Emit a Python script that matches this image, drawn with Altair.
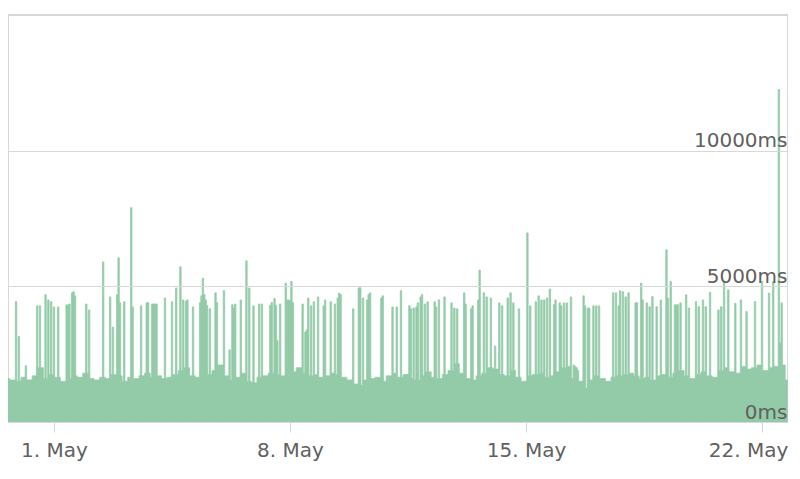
import altair as alt
import pandas as pd

# Hourly response time (ms), starting 2016-04-29 13:00 UTC
START = "2016-04-29 13:00"
N_HOURS = 558

# Baseline level, one value per 4-hour block
base_4h = [
    1600, 1550, 1500, 1650, 1550, 1700, 2000, 1600, 1750, 1650,
    1500, 1600, 1700, 1650, 1800, 1600, 1550, 1650, 1600, 1750,
    1700, 1500, 1650, 1600, 1700, 1800, 1650, 1700, 1600,
    1650, 1750, 1900, 2000, 1700, 1650, 1800, 1750, 1900, 2100,
    1700, 1550, 1650, 1800, 1500, 1450, 1650, 1700, 1800, 1750,
    1700, 1650, 1850, 2000, 1800, 1700, 1750, 1650,
    1700, 1800, 1750, 1650, 1550, 1400, 1350, 1550, 1600, 1650,
    1500, 1700, 1800, 1650, 1750, 1600, 1550, 1700, 1850, 1650,
    1600, 1750, 1900, 2150, 1800, 1600, 1550, 1700,
    1800, 2000, 1950, 1750, 1700, 1900, 1650, 1500, 1700, 1750,
    1800, 1650, 1700, 1850, 2000, 2050, 1600, 1500, 1250, 1550,
    1700, 1600, 1500, 1650, 1700, 1750, 1800, 1700,
    1600, 1650, 1550, 1700, 1750, 1650, 1800, 1900, 1700, 1600,
    1750, 1850, 1700, 1650, 1900, 2000, 1850, 1800, 2050, 1950,
    2000, 2100, 1900, 2000, 2050, 2100, 1550,
]

# Slow hours: hour offset from START, response time (ms)
spike_hours = [
    1, 8, 10, 15, 23, 25, 29, 31, 33, 35, 38, 44, 45, 46, 48, 49, 50, 58, 60,
    70, 75, 77, 80, 81, 82, 85, 90, 91, 97, 101, 102, 105, 106, 107, 108,
    114, 119, 122, 125, 127, 129, 130, 134, 139, 140, 141, 142, 143, 144, 146,
    150, 151, 156, 160, 162, 163, 164, 168, 172, 174, 177, 181, 183,
    189, 190, 192, 193, 194, 196, 200, 201, 202, 203, 204, 205, 208, 212,
    214, 215, 216, 218, 220, 223, 227, 228, 232, 235, 237, 238, 239, 248,
    252, 253, 255, 258, 259, 260, 268, 269, 276, 279, 282, 288, 289, 291,
    293, 294, 296, 297, 299, 301, 306, 307, 309, 313, 318, 320, 322, 327,
    328, 332, 333, 337, 338, 341, 343, 346, 349, 352, 354, 358, 360, 362,
    366, 372, 374, 378, 380, 382, 384, 386, 388, 391, 392, 395, 396, 398,
    400, 403, 405, 406, 407, 408, 412, 413, 415, 416, 419, 421, 423, 433,
    435, 437, 438, 440, 442, 444, 449, 450, 453, 454, 457, 459, 461, 464,
    467, 471, 472, 474, 477, 478, 479, 481, 485, 487, 492, 494, 497, 499,
    502, 508, 510, 512, 515, 520, 524, 528, 534, 539, 544, 547, 551, 552, 553,
]
spike_ms = [
    4530, 4440, 3150, 2070, 4280, 4280, 4690, 4500, 4430, 4240, 4240, 4320, 4300, 4350, 4760, 4800, 4650, 4350, 4130,
    5900, 4610, 3500, 4690, 6050, 4390, 4430, 7900, 4240, 4280, 4390, 4400, 4350, 4350, 4350, 4350,
    4570, 4430, 4940, 5720, 4500, 4450, 4500, 4240, 4400, 4650, 5300, 4700, 4500, 4300, 4170,
    4760, 4400, 4840, 2660, 4320, 4200, 4350, 4500, 5940, 4940, 4280, 4350, 4350,
    4300, 4400, 4550, 4300, 3000, 4350, 5120, 4500, 4500, 4480, 5180, 4400, 2000, 4350,
    3320, 3400, 4570, 4280, 4430, 4610, 4280, 4500, 4430, 4350, 4570, 4750, 4700, 4170,
    4940, 4950, 4570, 4500, 4700, 4760, 4570, 4650, 4240, 4240, 4840, 4280, 4170, 4200,
    4240, 4390, 4610, 4700, 4350, 4430, 4430, 4240, 4500, 4610, 4390, 4200, 4170, 4760,
    4350, 4170, 4280, 4500, 5600, 4760, 4610, 4570, 2800, 4390, 4280, 4570, 4760, 4390,
    4170, 6970, 4280, 4430, 4650, 4500, 4500, 4570, 4900, 4320, 4500, 4390, 4280, 4390,
    4390, 4610, 2100, 2050, 2000, 1900, 4650, 4280, 4200, 4200, 4280, 4280, 4280, 4760,
    4760, 4280, 4840, 4800, 4610, 4760, 4390, 4400, 5120, 4500, 4390, 4250, 4620, 4250,
    4500, 6350, 4570, 5180, 4320, 4320, 4320, 4390, 4690, 4200, 4440, 4250, 4500, 4250,
    4780, 4130, 4250, 5180, 4870, 4370, 4500, 4070, 4440, 5180, 4750, 5180, 12250, 2920, 4390,
]

y_ticks = [0, 5000, 10000]
x_tick_days = [1, 8, 15, 22]

values = [base_4h[h // 4] for h in range(N_HOURS)]
for h, v in zip(spike_hours, spike_ms):
    values[h] = max(values[h], v)

start = pd.Timestamp(START, tz="UTC")
df = pd.DataFrame({
    "time": [(start + pd.Timedelta(hours=h)).strftime("%Y-%m-%dT%H:%M:%SZ") for h in range(N_HOURS)],
    "ms": values,
})

FONT = "DejaVu Sans"
LABEL = "#606060"
GREEN = "#93cba8"

chart = alt.Chart(df).mark_area(
    interpolate="step", color=GREEN, stroke=GREEN, strokeWidth=0.8, clip=True
).encode(
    x=alt.X(
        "time:T",
        scale=alt.Scale(
            type="utc",
            domain=[
                alt.DateTime(year=2016, month=4, date=29, hours=15, minutes=16, utc=True),
                alt.DateTime(year=2016, month=5, date=22, hours=18, minutes=30, utc=True),
            ],
        ),
        axis=alt.Axis(
            values=[alt.DateTime(year=2016, month=5, date=d, utc=True) for d in x_tick_days],
            format="%-d. %b",
            title=None,
            grid=False,
            tickSize=10,
            tickColor="#ccd6eb",
            domainColor="#ccd6eb",
            labelFont=FONT,
            labelFontSize=20,
            labelColor=LABEL,
            labelPadding=8,
            labelFlush=False,
            labelOffset={"condition": {"test": "datum.index === 1", "value": -14}, "value": 0},
        ),
    ),
    y=alt.Y(
        "ms:Q",
        scale=alt.Scale(domain=[0, 15000], nice=False),
        axis=alt.Axis(
            orient="right",
            values=y_ticks,
            labelExpr="datum.value + 'ms'",
            title=None,
            domain=False,
            ticks=False,
            tickSize=0,
            grid=True,
            gridColor="#d8d8d8",
            labelAlign="right",
            labelBaseline="alphabetic",
            labelPadding=-1,
            labelOffset=-4,
            labelFont=FONT,
            labelFontSize=20,
            labelColor=LABEL,
            zindex=1,
        ),
    ),
).properties(
    width=780,
    height=407,
    padding={"left": 0, "top": 7, "right": 0, "bottom": 4},
).configure_view(
    stroke="#cccccc", strokeWidth=1.5
)

chart.save("out.html", embed_options={"renderer": "svg", "actions": False})
